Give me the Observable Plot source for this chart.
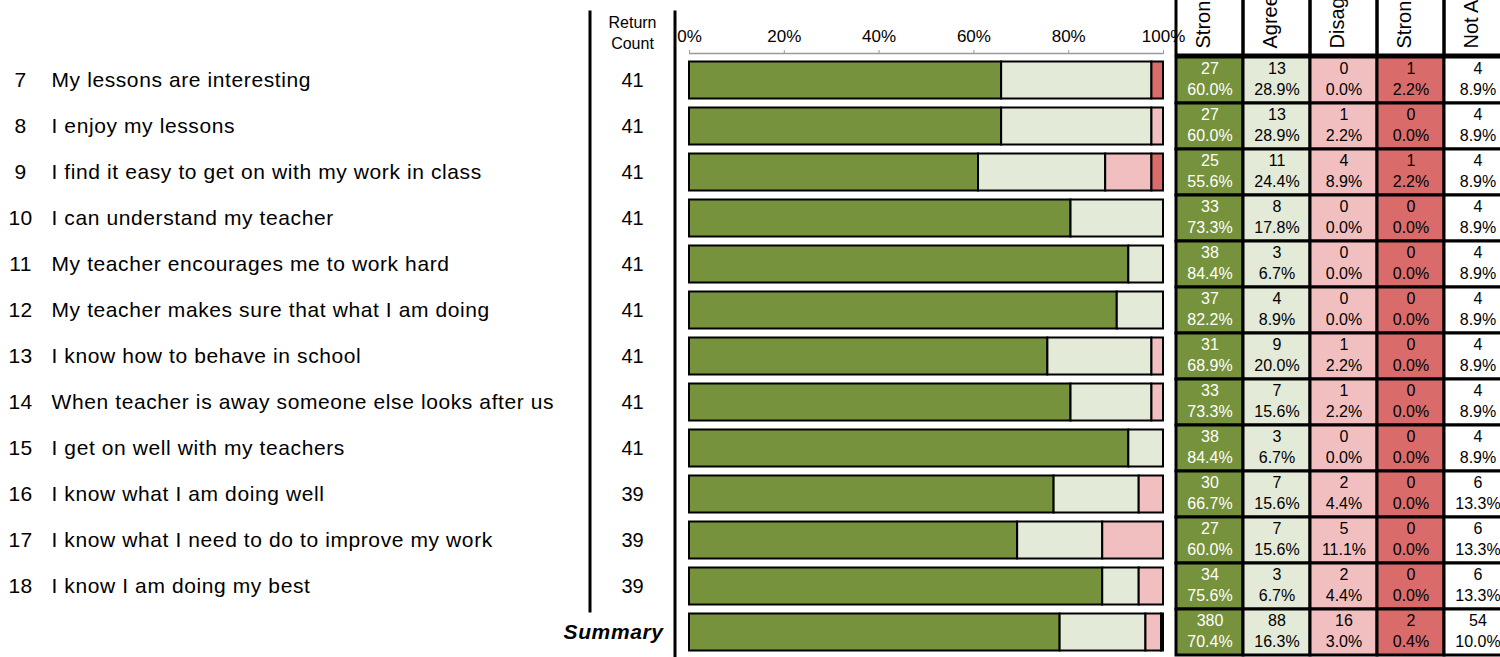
<!DOCTYPE html>
<html><head><meta charset="utf-8">
<script src="https://cdn.jsdelivr.net/npm/d3@7"></script>
<script src="https://cdn.jsdelivr.net/npm/@observablehq/plot@0.6"></script>
<style>
body{margin:0;background:#fff;}
#chart{position:relative;width:1500px;height:657px;overflow:hidden;background:#fff;}
</style></head><body><div id="chart"></div>
<script>
// ---- data ----
const questionNumbers = ["7","8","9","10","11","12","13","14","15","16","17","18"];
const questions = [
  "My lessons are interesting",
  "I enjoy my lessons",
  "I find it easy to get on with my work in class",
  "I can understand my teacher",
  "My teacher encourages me to work hard",
  "My teacher makes sure that what I am doing",
  "I know how to behave in school",
  "When teacher is away someone else looks after us",
  "I get on well with my teachers",
  "I know what I am doing well",
  "I know what I need to do to improve my work",
  "I know I am doing my best"
];
const returnCounts = [41,41,41,41,41,41,41,41,41,39,39,39];
const summaryLabel = "Summary";
const returnCountHeader = "Return\nCount";
const categories = ["Strongly Agree","Agree","Disagree","Strongly Disagree","Not Applicable"];
const categoryColors = ["#76923C","#E3EAD8","#F2BFC0","#D96B6B","#FFFFFF"];
const stronglyAgree    = [27,27,25,33,38,37,31,33,38,30,27,34,380];
const agree            = [13,13,11, 8, 3, 4, 9, 7, 3, 7, 7, 3, 88];
const disagree         = [ 0, 1, 4, 0, 0, 0, 1, 1, 0, 2, 5, 2, 16];
const stronglyDisagree = [ 1, 0, 1, 0, 0, 0, 0, 0, 0, 0, 0, 0,  2];
const notApplicable    = [ 4, 4, 4, 4, 4, 4, 4, 4, 4, 6, 6, 6, 54];
const axisTicks = [0,0.2,0.4,0.6,0.8,1];

// ---- derived tables ----
const rowKeys = [...questionNumbers, summaryLabel];
const series = [stronglyAgree, agree, disagree, stronglyDisagree, notApplicable];
const cells = [];
rowKeys.forEach((row, i) => {
  const total = d3.sum(series, s => s[i]);
  categories.forEach((cat, j) => cells.push({row, cat, value: series[j][i], pct: series[j][i] / total}));
});
const barCells = cells.filter(d => d.cat !== "Not Applicable" && d.value > 0);
const cellLabel = d => `${d.value}\n${(d.pct * 100).toFixed(1)}%`;

// ---- drawing ----
const chart = document.getElementById("chart");
const font = "'Liberation Sans', Arial, sans-serif";
function make(opts, left, top, extraStyle = {}) {
  const svg = Plot.plot({margin: 0, ...opts,
    style: {background: "transparent", fontFamily: font, overflow: "visible", ...extraStyle}});
  svg.style.position = "absolute";
  svg.style.left = left + "px";
  svg.style.top = top + "px";
  svg.style.maxWidth = "none";
  chart.append(svg);
}
const yRows = {type: "band", domain: rowKeys, range: [55, 657], padding: 0, axis: null};

// question numbers
make({width: 40, height: 657, y: yRows,
  marks: [Plot.text(questionNumbers, {y: d => d, text: d => d, frameAnchor: "middle", fontSize: 21})]
}, 0, 0, {letterSpacing: "0.3px"});

// question texts + Summary
make({width: 612, height: 657, y: yRows,
  marks: [
    Plot.text(questions, {y: (d, i) => questionNumbers[i], text: d => d, frameAnchor: "left", textAnchor: "start", fontSize: 21}),
    Plot.text([summaryLabel], {y: d => d, text: d => d, frameAnchor: "right", textAnchor: "end", fontSize: 21, fontWeight: "bold", fontStyle: "italic"})
  ]
}, 51, 0, {letterSpacing: "0.6px"});

// return counts
make({width: 84, height: 657, y: yRows,
  marks: [
    Plot.text([returnCountHeader], {text: d => d, frameAnchor: "top", lineAnchor: "top", dy: 12, fontSize: 16, lineHeight: 1.35}),
    Plot.text(returnCounts, {y: (d, i) => questionNumbers[i], text: d => String(d), frameAnchor: "middle", fontSize: 20})
  ]
}, 590, 0);

// divider lines
make({width: 3, height: 602, marks: [Plot.frame({fill: "#000", stroke: "none"})]}, 588, 10);
make({width: 3, height: 647, marks: [Plot.frame({fill: "#000", stroke: "none"})]}, 673, 10);

// stacked bars
make({width: 1500, height: 657,
  x: {domain: [0, 1], range: [689, 1163], axis: null},
  y: yRows,
  color: {domain: categories, range: categoryColors},
  marks: [
    Plot.barX(barCells, {x: "value", y: "row", fill: "cat", offset: "normalize", stroke: "#000", strokeWidth: 2, insetTop: 4.5, insetBottom: 4.5})
  ]
}, 0, 0);

// table header (transparent cells so the axis label may show through)
const xCols = {type: "band", domain: categories, range: [0, 335], padding: 0, axis: null};
make({width: 335, height: 56, marginBottom: 8, x: xCols,
  marks: [
    Plot.cell(categories, {x: d => d, fill: "none", stroke: "#000", strokeWidth: 3, insetTop: -6, insetBottom: -7}),
    Plot.text(categories, {x: d => d, text: d => d, rotate: -90, frameAnchor: "bottom", textAnchor: "start", fontSize: 20})
  ]
}, 1176, 0);

// table body
make({width: 335, height: 657, x: xCols, y: yRows,
  color: {domain: categories, range: categoryColors},
  marks: [
    Plot.cell(cells, {x: "cat", y: "row", fill: "cat", stroke: "#000", strokeWidth: 3}),
    Plot.text(cells.filter(d => d.cat === "Strongly Agree"), {x: "cat", y: "row", text: cellLabel, fill: "#fff", fontSize: 16, lineHeight: 1.3, dy: -2.5}),
    Plot.text(cells.filter(d => d.cat !== "Strongly Agree"), {x: "cat", y: "row", text: cellLabel, fill: "#000", fontSize: 16, lineHeight: 1.3, dy: -2.5})
  ]
}, 1176, 0);

// axis (drawn last so "100%" shows across the table edge)
make({width: 1500, height: 60, marginTop: 53, marginBottom: 7,
  x: {domain: [0, 1], range: [689, 1163]}, y: {domain: [0, 1]},
  marks: [
    Plot.ruleY([1], {x1: 0, x2: 1, stroke: "#9a9a9a", strokeWidth: 1.5}),
    Plot.axisX(axisTicks, {anchor: "top", tickFormat: d3.format(".0%"), tickSize: 4, tickPadding: 8, fontSize: 17, stroke: "#9a9a9a", fill: "#000"})
  ]
}, 0, 0);
</script>
</body></html>
